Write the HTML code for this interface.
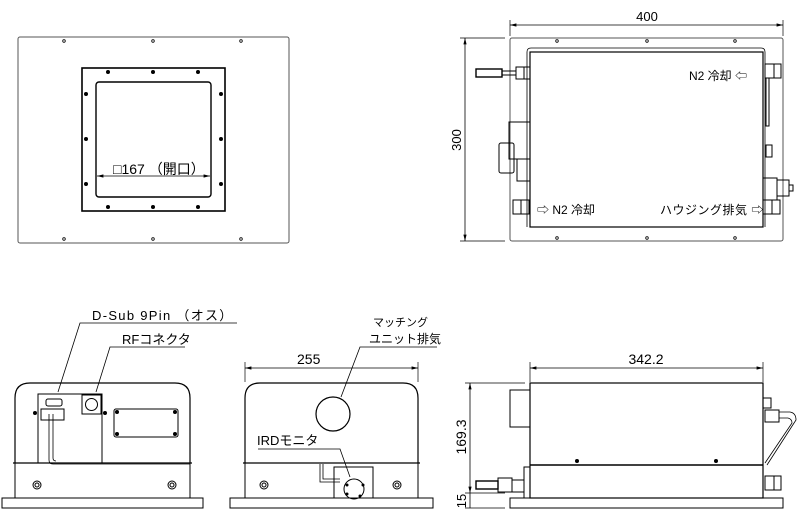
<!DOCTYPE html>
<html><head><meta charset="utf-8"><style>
html,body{margin:0;padding:0;background:#fff;}
svg{display:block;}
text{font-family:"Liberation Sans","Noto Sans CJK JP",sans-serif;fill:#000;}
</style></head><body>
<svg width="800" height="530" viewBox="0 0 800 530" xmlns="http://www.w3.org/2000/svg">
<defs>
<marker id="a" markerWidth="8" markerHeight="6" refX="8" refY="3" orient="auto-start-reverse"><path d="M0,1 L8,3 L0,5" fill="#000"/></marker>
</defs>
<g fill="none" stroke="#000" stroke-width="1">
<!-- TOP LEFT -->
<rect x="18" y="37" width="271" height="206" rx="2" stroke="#555"/>
<rect x="82" y="68" width="143" height="143" stroke-width="1.6"/>
<rect x="96" y="82" width="115" height="115" rx="3" stroke-width="1.4"/>
<line x1="97" y1="176" x2="210" y2="176" marker-start="url(#a)" marker-end="url(#a)" stroke-width="0.8"/>
<g fill="#000" stroke="none">
<circle cx="108" cy="72" r="2"/><circle cx="153" cy="72" r="2"/><circle cx="198" cy="72" r="2"/>
<circle cx="108" cy="207" r="2"/><circle cx="153" cy="207" r="2"/><circle cx="198" cy="207" r="2"/>
<circle cx="86" cy="94" r="2"/><circle cx="86" cy="139" r="2"/><circle cx="86" cy="184" r="2"/>
<circle cx="221" cy="94" r="2"/><circle cx="221" cy="139" r="2"/><circle cx="221" cy="184" r="2"/>
</g>
<g stroke-width="0.8"><circle cx="64" cy="41" r="1.3"/><circle cx="153" cy="41" r="1.3"/><circle cx="241" cy="41" r="1.3"/>
<circle cx="64" cy="239" r="1.3"/><circle cx="153" cy="239" r="1.3"/><circle cx="241" cy="239" r="1.3"/></g>

<!-- TOP RIGHT -->
<rect x="510" y="38" width="273" height="203" rx="2" stroke="#555"/>
<path d="M527,227 V52 Q527,48 531,48 H761 Q765,48 765,52 V227" stroke-width="0.8"/>
<rect x="530" y="52" width="233" height="175" stroke-width="1.2"/>
<line x1="510" y1="25" x2="783" y2="25" marker-start="url(#a)" marker-end="url(#a)" stroke-width="0.8"/>
<line x1="510" y1="20" x2="510" y2="36" stroke-width="0.7"/><line x1="783" y1="20" x2="783" y2="36" stroke-width="0.7"/>
<line x1="465" y1="38" x2="465" y2="241" marker-start="url(#a)" marker-end="url(#a)" stroke-width="0.8"/>
<line x1="460" y1="38" x2="505" y2="38" stroke-width="0.7"/><line x1="460" y1="241" x2="505" y2="241" stroke-width="0.7"/>
<g stroke-width="0.8"><circle cx="557" cy="41" r="1.3"/><circle cx="647" cy="41" r="1.3"/><circle cx="735" cy="41" r="1.3"/>
<circle cx="557" cy="238" r="1.3"/><circle cx="647" cy="238" r="1.3"/><circle cx="735" cy="238" r="1.3"/></g>
<rect x="476" y="69" width="26" height="8" stroke-width="1.4"/>
<rect x="502" y="71" width="14" height="4"/>
<rect x="516" y="67" width="8" height="12"/><rect x="524" y="67" width="6" height="12"/>
<rect x="509" y="122" width="21" height="37"/>
<rect x="499" y="143" width="15" height="30" rx="2"/>
<rect x="517" y="159" width="13" height="22"/>
<rect x="513" y="200" width="8" height="14"/><rect x="521" y="200" width="8" height="14"/>
<rect x="765" y="64" width="9" height="14"/><rect x="774" y="64" width="7" height="14"/>
<rect x="766" y="78" width="3" height="48"/>
<rect x="766" y="145" width="6" height="12"/>
<rect x="763" y="178" width="14" height="22"/><rect x="777" y="180" width="12" height="16"/><path d="M789,185 h4 v6 h-4"/>
<rect x="763" y="200" width="9" height="14"/><rect x="772" y="200" width="8" height="14"/>

<!-- BOTTOM LEFT -->
<path d="M15,463 V398 Q15,383 30,383 H175 Q190,383 190,398 V463" stroke-width="1.2"/>
<line x1="13" y1="463" x2="192" y2="463" stroke-width="1.2"/>
<rect x="15" y="463" width="175" height="35"/>
<rect x="2" y="498" width="201" height="10"/>
<rect x="38" y="394" width="64" height="69"/>
<rect x="46" y="399" width="16" height="7" rx="2"/>
<rect x="41" y="409" width="23" height="11"/>
<path d="M49,414 V460 Q49,464 53,464 H190 M53,414 V458 Q53,461 56,461" stroke-width="0.8"/>
<rect x="82" y="395" width="19" height="19"/><circle cx="91.5" cy="404.5" r="6"/>
<rect x="114" y="409" width="64" height="28" rx="2"/>
<g fill="#000" stroke="none"><circle cx="35" cy="413" r="2"/><circle cx="105" cy="413" r="2"/>
<circle cx="117" cy="412" r="2"/><circle cx="175" cy="412" r="2"/><circle cx="117" cy="434" r="2"/><circle cx="175" cy="434" r="2"/></g>
<circle cx="37" cy="485" r="4"/><circle cx="37" cy="485" r="2"/>
<circle cx="172" cy="485" r="4"/><circle cx="172" cy="485" r="2"/>
<path d="M237,323 H80 L58,392" stroke-width="0.8"/>
<path d="M185,347 H110 L96,392" stroke-width="0.8"/>

<!-- BOTTOM MIDDLE -->
<path d="M245,463 V398 Q245,383 260,383 H403 Q418,383 418,398 V463" stroke-width="1.2"/>
<line x1="243" y1="463" x2="420" y2="463" stroke-width="1.2"/>
<rect x="245" y="463" width="173" height="35"/>
<rect x="230" y="498" width="203" height="10"/>
<circle cx="333" cy="414" r="17" stroke-width="1.2"/>
<line x1="245" y1="368" x2="418" y2="368" marker-start="url(#a)" marker-end="url(#a)" stroke-width="0.8"/>
<line x1="245" y1="362" x2="245" y2="382" stroke-width="0.7"/><line x1="418" y1="362" x2="418" y2="382" stroke-width="0.7"/>
<rect x="334" y="467" width="39" height="31"/>
<path d="M320,464 V482 H340 M323,464 V479 H340" stroke-width="0.8"/>
<circle cx="354" cy="489" r="10"/>
<g fill="#000" stroke="none"><circle cx="347" cy="485" r="1.5"/><circle cx="363" cy="485" r="1.5"/><circle cx="347" cy="494" r="1.5"/><circle cx="360" cy="496" r="1.5"/></g>
<circle cx="264" cy="485" r="4"/><circle cx="264" cy="485" r="2"/>
<circle cx="397" cy="485" r="4"/><circle cx="397" cy="485" r="2"/>
<path d="M437,347 H360 L341,397" stroke-width="0.8"/>
<path d="M258,449 H340 L350,477" stroke-width="0.8"/>

<!-- BOTTOM RIGHT -->
<rect x="530" y="383" width="233" height="115" stroke-width="1.2"/>
<line x1="530" y1="465" x2="763" y2="465" stroke-width="1.4"/>
<rect x="510" y="498" width="273" height="10"/>
<rect x="510" y="390" width="20" height="37"/>
<g fill="#000" stroke="none"><circle cx="577" cy="461" r="2"/><circle cx="716" cy="461" r="2"/></g>
<line x1="530" y1="368" x2="763" y2="368" marker-start="url(#a)" marker-end="url(#a)" stroke-width="0.8"/>
<line x1="763" y1="362" x2="763" y2="382" stroke-width="0.7"/><line x1="530" y1="362" x2="530" y2="382" stroke-width="0.7"/>
<line x1="470" y1="383" x2="470" y2="493" marker-start="url(#a)" marker-end="url(#a)" stroke-width="0.8"/>
<line x1="470" y1="493" x2="470" y2="508" stroke-width="0.8"/>
<line x1="465" y1="383" x2="525" y2="383" stroke-width="0.7"/><line x1="465" y1="493" x2="505" y2="493" stroke-width="0.7"/><line x1="465" y1="508" x2="505" y2="508" stroke-width="0.7"/>
<rect x="476" y="481" width="22" height="8" stroke-width="1.4"/>
<rect x="498" y="478" width="14" height="14"/><rect x="512" y="480" width="12" height="12"/>
<rect x="524" y="467" width="6" height="31"/>
<rect x="763" y="398" width="8" height="10"/><rect x="765" y="410" width="14" height="12"/>
<path d="M779,412 H790 Q796,413 796,420 L767,465 M779,418 H788 Q792,419 792,423 L765,463" stroke-width="0.8"/>
<rect x="765" y="476" width="9" height="14"/><rect x="774" y="476" width="7" height="14"/>
</g>

<!-- TEXT -->
<text x="113" y="174" font-size="14">□167 （開口）</text>
<text x="647" y="21" font-size="13" text-anchor="middle">400</text>
<text x="0" y="0" font-size="13" text-anchor="middle" transform="translate(461,140) rotate(-90)">300</text>
<text x="689" y="80" font-size="12">N2 冷却 ⇦</text>
<text x="537" y="214" font-size="12">⇨ N2 冷却</text>
<text x="660" y="214" font-size="12" letter-spacing="0.5">ハウジング排気 ⇨</text>
<text x="92" y="320" font-size="13" letter-spacing="1.3">D-Sub  9Pin （オス）</text>
<text x="122" y="344" font-size="13">RFコネクタ</text>
<text x="373" y="326" font-size="11">マッチング</text>
<text x="369" y="343" font-size="12">ユニット排気</text>
<text x="297" y="364" font-size="14">255</text>
<text x="257" y="445" font-size="13">IRDモニタ</text>
<text x="646" y="364" font-size="14" text-anchor="middle">342.2</text>
<text x="0" y="0" font-size="14" text-anchor="middle" transform="translate(466,437) rotate(-90)">169.3</text>
<text x="0" y="0" font-size="13" text-anchor="middle" transform="translate(466,501) rotate(-90)">15</text>
</svg>
</body></html>
